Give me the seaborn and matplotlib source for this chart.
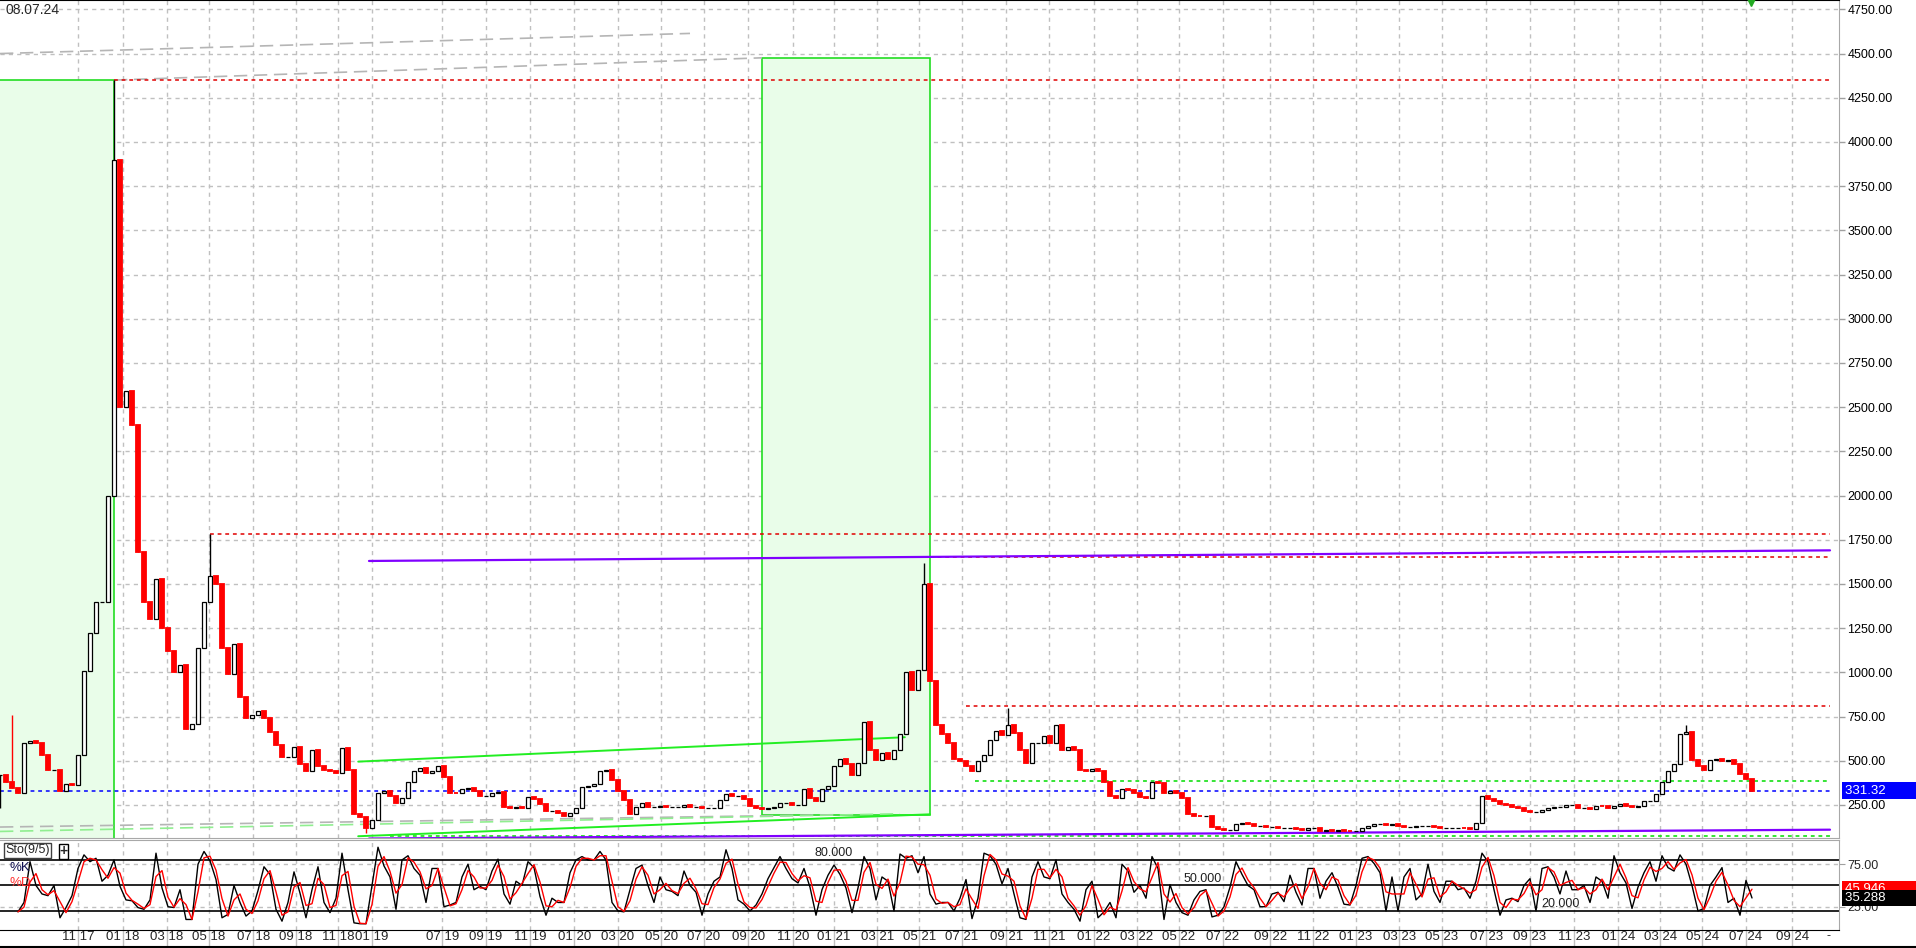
import numpy as np
import pandas as pd
import matplotlib
matplotlib.use("Agg")
import matplotlib.pyplot as plt
import matplotlib.transforms as mtransforms
from matplotlib.patches import Rectangle
import seaborn as sns

# closes, one value per bar (bar ~ 6 px wide)
close = [
    420, 380, 343, 317, 600, 610, 600, 530, 450, 450,
    330, 370, 360, 530, 1010, 1225, 1400, 1400, 2000, 3900,
    2500, 2590, 2400, 1680, 1400, 1300, 1530, 1250, 1120, 1000,
    1040, 680, 710, 1140, 1400, 1545, 1500, 1140, 990, 1160,
    860, 740, 760, 780, 740, 660, 590, 520, 520, 580,
    480, 440, 560, 470, 450, 440, 430, 570, 450, 200,
    180, 120, 165, 320, 330, 300, 260, 290, 380, 440,
    460, 430, 440, 470, 410, 320, 315, 340, 345, 330,
    300, 300, 315, 325, 240, 235, 240, 235, 295, 285,
    255, 215, 215, 205, 190, 205, 235, 350, 355, 370,
    440, 450, 390, 330, 280, 200, 240, 260, 240, 240,
    245, 240, 240, 240, 250, 240, 240, 235, 235, 235,
    280, 310, 300, 300, 285, 245, 235, 225, 235, 240,
    260, 260, 250, 250, 340, 290, 275, 340, 355, 470,
    510, 480, 420, 490, 720, 560, 505, 545, 510, 560,
    650, 1000, 900, 1015, 1500, 950, 700, 650, 600, 510,
    500, 470, 440, 500, 530, 620, 670, 645, 700, 655,
    560, 485, 600, 600, 640, 600, 700, 560, 580, 560,
    450, 440, 455, 440, 380, 300, 290, 340, 335, 315,
    295, 290, 380, 375, 320, 330, 315, 290, 200, 190,
    185, 185, 125, 112, 106, 110, 140, 150, 145, 130,
    130, 125, 128, 120, 120, 120, 114, 110, 118, 118,
    105, 108, 105, 107, 105, 100, 105, 120, 130, 140,
    140, 138, 142, 130, 128, 128, 130, 130, 133, 128,
    120, 120, 120, 120, 117, 112, 150, 300, 285, 270,
    255, 248, 240, 230, 215, 210, 210, 224, 235, 236,
    240, 250, 252, 232, 232, 228, 245, 242, 235, 245,
    255, 245, 240, 242, 270, 270, 310, 380, 440, 480,
    650, 660, 505, 470, 450, 505, 510, 500, 505, 480,
    425, 395, 331.32,
]
hi_bars = [2, 19, 35, 154, 168, 281]
hi_vals = [760, 4350, 1780, 1620, 800, 700]
lo_bars = [0, 61]
lo_vals = [230, 90]

# Sto(9/5) %K, same bars
stoch_k = [
    np.nan, np.nan, np.nan, 19, 30, 78, 50, 40, 38, 50,
    12, 24, 38, 70, 86, 78, 82, 55, 62, 80,
    49, 33, 32, 24, 22, 33, 88, 47, 25, 24,
    45, 10, 10, 75, 90, 79, 57, 12, 16, 50,
    30, 14, 20, 44, 72, 63, 22, 8, 30, 66,
    41, 12, 45, 72, 30, 18, 35, 88, 45, 6,
    5, 5, 50, 95, 73, 60, 22, 80, 85, 70,
    62, 30, 70, 70, 25, 27, 30, 60, 75, 45,
    49, 45, 67, 81, 40, 28, 55, 50, 78, 71,
    37, 15, 35, 30, 30, 65, 80, 84, 80, 80,
    90, 80, 30, 20, 19, 45, 70, 74, 50, 30,
    60, 45, 43, 38, 67, 50, 42, 15, 40, 55,
    60, 92, 70, 33, 28, 20, 27, 40, 58, 71,
    84, 70, 58, 53, 70, 48, 15, 45, 62, 74,
    63, 47, 18, 47, 84, 70, 33, 60, 55, 20,
    87, 82, 85, 65, 84, 40, 28, 30, 30, 20,
    35, 57, 11, 35, 88, 85, 75, 52, 70, 40,
    12, 10, 60, 78, 60, 58, 80, 40, 30, 22,
    8, 45, 55, 12, 19, 30, 12, 75, 67, 42,
    50, 35, 84, 70, 10, 51, 30, 18, 15, 33,
    43, 45, 13, 15, 25, 48, 78, 63, 50, 45,
    25, 25, 40, 42, 31, 62, 42, 27, 70, 70,
    35, 55, 65, 48, 28, 27, 50, 82, 84, 76,
    65, 20, 60, 20, 60, 70, 33, 40, 75, 43,
    30, 55, 55, 45, 47, 35, 55, 88, 78, 45,
    15, 33, 35, 31, 50, 58, 20, 70, 72, 60,
    40, 67, 45, 45, 50, 30, 60, 55, 35, 85,
    65, 53, 23, 48, 65, 78, 55, 85, 71, 67,
    86, 75, 50, 20, 23, 50, 60, 71, 30, 35,
    15, 56, 35.288,
]
last_price = 331.32
last_k = 35.288
last_d = 45.946

month_labels = ["11 17", "01 18", "03 18", "05 18", "07 18", "09 18", "11 18", "01 19",
                "07 19", "09 19", "11 19", "01 20", "03 20", "05 20", "07 20", "09 20",
                "11 20", "01 21", "03 21", "05 21", "07 21", "09 21", "11 21", "01 22",
                "03 22", "05 22", "07 22", "09 22", "11 22", "01 23", "03 23", "05 23",
                "07 23", "09 23", "11 23", "01 24", "03 24", "05 24", "07 24", "09 24"]
month_bars = [13.0, 20.5, 27.8, 34.8, 42.2, 49.3, 56.3, 62.0, 73.7, 81.0,
              88.3, 95.7, 103.0, 110.2, 117.3, 124.7, 132.2, 139.0, 146.2, 153.2,
              160.3, 167.7, 174.8, 182.3, 189.5, 196.5, 203.8, 211.7, 218.8, 226.0,
              233.2, 240.3, 247.7, 255.0, 262.3, 269.7, 276.7, 283.7, 291.0, 298.7]

# drawing objects on the chart
zone_x0 = [-1, 127]
zone_x1 = [19, 155]
zone_lo = [60, 195]
zone_hi = [4350, 4476]
red_levels = [4350, 1780, 1650, 810]
red_level_start = [19, 35, 155, 161]
green_levels = [386, 75]
green_level_start = [162.5, 65]
line_end = 305
purple_x = [61.5, 305]
purple_top = [1630, 1690]
purple_bot = [60, 110]
lime_top_x = [59.7, 150.8]
lime_top = [495, 633]
lime_bot_x = [59.7, 155]
lime_bot = [73, 197]
fan_a_x, fan_a = [0, 115], [4500, 4614]
fan_b_x, fan_b = [19, 127], [4350, 4476]
fan_c_x, fan_c = [0, 140], [125, 195]
fan_d_x, fan_d = [0, 150], [100, 200]

sns.set_style("white")
plt.rcParams["font.family"] = ["Liberation Sans", "DejaVu Sans"]

df = pd.DataFrame({"close": close})
df["bar"] = np.arange(len(df))
df["open"] = df["close"].shift(1).fillna(df["close"])
df["high"] = df[["open", "close"]].max(axis=1)
df["low"] = df[["open", "close"]].min(axis=1)
df.loc[hi_bars, "high"] = hi_vals
df.loc[lo_bars, "low"] = lo_vals
up = df["close"] >= df["open"]

sto = pd.DataFrame({"bar": np.arange(len(stoch_k)), "k": stoch_k})
sto["d"] = sto["k"].rolling(2, min_periods=1).mean()

W, H = 1916, 948
fig = plt.figure(figsize=(W / 100, H / 100), dpi=100)
ax = fig.add_axes([0, 110 / H, 1839 / W, 838 / H])
ax2 = fig.add_axes([0, 18 / H, 1839 / W, 90 / H], sharex=ax)

grid_kw = dict(color="#c0c0c0", lw=1, ls=(0, (3, 3)), zorder=0.2)
ax.set_xlim(0, 306.5)
ax.set_ylim(63, 4803)
ax2.set_ylim(-2.4, 103.5)

# grid
for b in month_bars:
    ax.axvline(b, **grid_kw)
    ax2.axvline(b, **grid_kw)
yt = np.arange(250, 4751, 250)
for v in yt:
    ax.axhline(v, **grid_kw)
for v in [25, 75]:
    ax2.axhline(v, **grid_kw)

# zones
for x0, x1, lo, hi in zip(zone_x0, zone_x1, zone_lo, zone_hi):
    ax.add_patch(Rectangle((x0, lo), x1 - x0, hi - lo, facecolor="#e9fde9",
                           edgecolor="#22dd22", lw=1.2, zorder=0.5))

# fan lines
ax.plot(fan_a_x, fan_a, color="#b5b5b5", lw=1.2, ls=(0, (8, 4)), zorder=1)
ax.plot(fan_b_x, fan_b, color="#b5b5b5", lw=1.2, ls=(0, (8, 4)), zorder=1)
ax.plot(fan_c_x, fan_c, color="#b5b5b5", lw=1.2, ls=(0, (8, 4)), zorder=1)
ax.plot(fan_d_x, fan_d, color="#90ee90", lw=1.2, ls=(0, (8, 4)), zorder=1)

# levels
for y, x0 in zip(red_levels, red_level_start):
    ax.plot([x0, line_end], [y, y], color="#e00000", lw=1.1, ls=(0, (2.5, 2.5)), zorder=1.5)
for y, x0 in zip(green_levels, green_level_start):
    ax.plot([x0, line_end], [y, y], color="#00dd00", lw=1.1, ls=(0, (2.5, 2.5)), zorder=1.5)
ax.plot([0, line_end], [last_price, last_price], color="#0000ff", lw=1.1,
        ls=(0, (2.5, 2.5)), zorder=1.5)

sns.lineplot(x=purple_x, y=purple_top, color="#8000ff", lw=1.6, ax=ax, zorder=1.6)
sns.lineplot(x=purple_x, y=purple_bot, color="#8000ff", lw=1.6, ax=ax, zorder=1.6)
sns.lineplot(x=lime_top_x, y=lime_top, color="#22ee22", lw=1.4, ax=ax, zorder=1.6)
sns.lineplot(x=lime_bot_x, y=lime_bot, color="#22ee22", lw=1.4, ax=ax, zorder=1.6)

# candles
dn = ~up
ax.vlines(df.loc[up, "bar"], df.loc[up, "low"], df.loc[up, "high"], color="black", lw=1, zorder=3)
ax.vlines(df.loc[dn, "bar"], df.loc[dn, "low"], df.loc[dn, "high"], color="red", lw=1, zorder=3)
ax.bar(df.loc[up, "bar"], df.loc[up, "close"] - df.loc[up, "open"], bottom=df.loc[up, "open"],
       width=0.55, facecolor="white", edgecolor="black", lw=0.9, zorder=3.5)
ax.bar(df.loc[dn, "bar"], df.loc[dn, "open"] - df.loc[dn, "close"], bottom=df.loc[dn, "close"],
       width=0.55, facecolor="red", edgecolor="red", lw=1.3, zorder=3.5)

ax.plot(291.8, 4792, marker="v", color="#22aa22", ms=6, clip_on=False, zorder=5)

# price axis
ax.yaxis.tick_right()
ax.set_yticks(yt)
ax.set_yticklabels([f"{v:.2f}" for v in yt])
ax.tick_params(axis="y", right=True, length=4, width=1, color="#a0a0a0", pad=2,
               labelsize=9, labelcolor="black")
ax.tick_params(axis="x", bottom=False, labelbottom=False)
ax.spines["left"].set_visible(False)
ax.spines["top"].set_color("black")
ax.spines["right"].set_color("#a8a8a8")
ax.spines["bottom"].set_color("#a8a8a8")
ax.text(0.003, 0.997, "08.07.24", transform=ax.transAxes, ha="left", va="top", fontsize=10)

blend = mtransforms.blended_transform_factory(ax.transAxes, ax.transData)
pad = "\u00a0" * 8
ax.text(1.003, last_price, f"{last_price:.2f}" + pad, transform=blend, color="white",
        ha="left", va="center", fontsize=9.5, clip_on=False, zorder=6,
        bbox=dict(facecolor="#0000ff", edgecolor="none", pad=1.8))

# stochastic
for lv in [20, 50, 80]:
    ax2.axhline(lv, color="black", lw=1.2, zorder=1)
sns.lineplot(data=sto, x="bar", y="k", color="black", lw=1, ax=ax2, zorder=3)
sns.lineplot(data=sto, x="bar", y="d", color="red", lw=1, ax=ax2, zorder=3.2)
ax2.text(139, 81, "80.000", ha="center", va="bottom", fontsize=9, color="#202020")
ax2.text(200.5, 51, "50.000", ha="center", va="bottom", fontsize=9, color="#202020")
ax2.text(260, 21, "20.000", ha="center", va="bottom", fontsize=9, color="#202020")
ax2.text(0.003, 0.95, "Sto(9/5)", transform=ax2.transAxes, ha="left", va="top", fontsize=9,
         bbox=dict(facecolor="white", edgecolor="#404040", pad=1.0))
ax2.text(0.0325, 0.95, "+", transform=ax2.transAxes, ha="left", va="top", fontsize=10,
         fontweight="bold", bbox=dict(facecolor="white", edgecolor="black", pad=0.3))
ax2.text(0.005, 0.69, "%K", transform=ax2.transAxes, ha="left", va="center", fontsize=9.5,
         color="#101050")
ax2.text(0.005, 0.52, "%D", transform=ax2.transAxes, ha="left", va="center", fontsize=9.5,
         color="#ff3030")

ax2.yaxis.tick_right()
ax2.set_yticks([25, 75])
ax2.set_yticklabels(["25.00", "75.00"])
ax2.tick_params(axis="y", right=True, length=4, color="#a0a0a0", pad=2, labelsize=9)
blend2 = mtransforms.blended_transform_factory(ax2.transAxes, ax2.transData)
ax2.text(1.003, last_d, f"{last_d:.3f}" + pad, transform=blend2, color="white", ha="left",
         va="center", fontsize=9.5, clip_on=False, zorder=6,
         bbox=dict(facecolor="#ff0000", edgecolor="none", pad=1.5))
ax2.text(1.003, last_k, f"{last_k:.3f}" + pad, transform=blend2, color="white", ha="left",
         va="center", fontsize=9.5, clip_on=False, zorder=6,
         bbox=dict(facecolor="black", edgecolor="none", pad=1.5))

ax2.set_xticks(month_bars)
ax2.set_xticklabels(month_labels)
ax2.tick_params(axis="x", bottom=True, length=13, width=1, color="#c0c0c0", pad=-12,
                labelsize=9.5)
ax2.text(304.8, -3, "-", ha="center", va="top", fontsize=9, clip_on=False)
ax2.set_xlabel("")
ax2.set_ylabel("")
ax.set_xlabel("")
ax.set_ylabel("")
ax2.spines["left"].set_visible(False)
ax2.spines["top"].set_color("#a8a8a8")
ax2.spines["right"].set_color("#a8a8a8")
ax2.spines["bottom"].set_color("black")
fig.add_artist(plt.Line2D([0, 1], [0.001, 0.001], color="black", lw=1.5))

fig.savefig("out.png", dpi=100)
